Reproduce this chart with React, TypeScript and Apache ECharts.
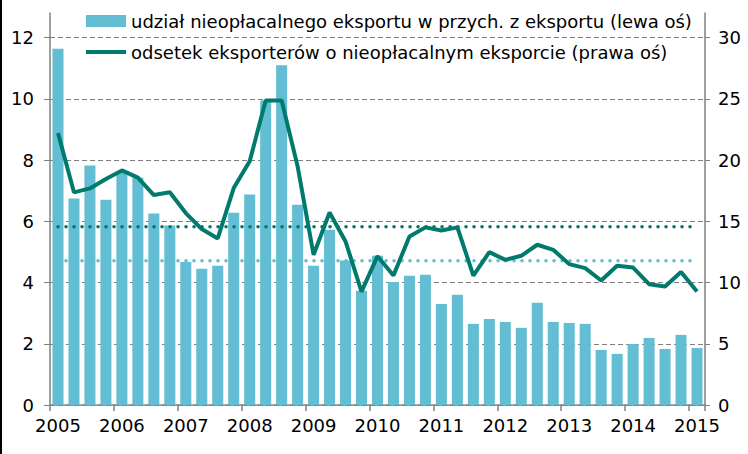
import React, { useEffect, useRef } from "react";
import * as echarts from "echarts";

const quarters = [
  "2005 Q1", "2005 Q2", "2005 Q3", "2005 Q4",
  "2006 Q1", "2006 Q2", "2006 Q3", "2006 Q4",
  "2007 Q1", "2007 Q2", "2007 Q3", "2007 Q4",
  "2008 Q1", "2008 Q2", "2008 Q3", "2008 Q4",
  "2009 Q1", "2009 Q2", "2009 Q3", "2009 Q4",
  "2010 Q1", "2010 Q2", "2010 Q3", "2010 Q4",
  "2011 Q1", "2011 Q2", "2011 Q3", "2011 Q4",
  "2012 Q1", "2012 Q2", "2012 Q3", "2012 Q4",
  "2013 Q1", "2013 Q2", "2013 Q3", "2013 Q4",
  "2014 Q1", "2014 Q2", "2014 Q3", "2014 Q4",
  "2015 Q1",
];

// udział nieopłacalnego eksportu w przychodach z eksportu (lewa oś)
const unprofitableExportShare = [
  11.63, 6.74, 7.82, 6.7,
  7.62, 7.42, 6.25, 5.86,
  4.67, 4.45, 4.55, 6.28,
  6.87, 9.94, 11.09, 6.54,
  4.55, 5.72, 4.72, 3.73,
  4.87, 4.02, 4.22, 4.25,
  3.3, 3.6, 2.65, 2.81,
  2.71, 2.52, 3.34, 2.71,
  2.68, 2.65, 1.8, 1.67,
  1.99, 2.19, 1.83, 2.29,
  1.86,
];

// odsetek eksporterów o nieopłacalnym eksporcie (prawa oś)
const unprofitableExportersPct = [
  22.2, 17.36, 17.68, 18.45,
  19.15, 18.56, 17.14, 17.36,
  15.67, 14.36, 13.6, 17.71,
  19.89, 24.85, 24.85, 19.48,
  12.26, 15.72, 13.35, 9.26,
  12.15, 10.57, 13.76, 14.5,
  14.25, 14.5, 10.57, 12.48,
  11.85, 12.18, 13.08, 12.67,
  11.5, 11.17, 10.16, 11.36,
  11.22, 9.86, 9.67, 10.85,
  9.26,
];

// średnie (linie kropkowane)
const avgShare = [4.71];
const avgExporters = [14.55];

const leftAxis = { min: 0, max: 12.8, interval: 2 };
const rightAxis = { min: 0, max: 32, interval: 5 };

const barName = "udział nieopłacalnego eksportu w przych. z eksportu (lewa oś)";
const lineName = "odsetek eksporterów o nieopłacalnym eksporcie (prawa oś)";

const BAR_COLOR = "#63BDD3";
const LINE_COLOR = "#007A6C";
const FONT = "DejaVu Sans, sans-serif";

export default function App() {
  const ref = useRef<HTMLDivElement>(null);

  useEffect(() => {
    document.body.style.margin = "0";
    if (!ref.current) return;
    const chart = echarts.init(ref.current, null, { renderer: "svg" });
    const gridLine = { show: true, showMaxLine: false, lineStyle: { color: "#808080", type: [5, 3], width: 1 } };
    chart.setOption({
      animation: false,
      backgroundColor: "#ffffff",
      textStyle: { fontFamily: FONT },
      grid: { left: 50, right: 43, top: 13, bottom: 49, containLabel: false },
      legend: {
        orient: "vertical",
        left: 84,
        top: 12,
        padding: 0,
        itemWidth: 40,
        itemHeight: 12,
        itemGap: 13,
        textStyle: { fontSize: 18, color: "#000", fontFamily: FONT },
        data: [
          { name: barName, icon: "rect" },
          {
            name: lineName,
            itemStyle: { opacity: 0, color: "transparent", borderWidth: 0 },
            lineStyle: { width: 4, color: LINE_COLOR },
          },
        ],
        selectedMode: false,
      },
      xAxis: {
        type: "category",
        data: quarters,
        boundaryGap: true,
        axisLine: { lineStyle: { color: "#808080", width: 1.5 } },
        axisTick: { show: true, interval: 3, length: 6, lineStyle: { color: "#808080", width: 1.5 } },
        axisLabel: {
          interval: 3,
          margin: 11,
          fontSize: 18,
          color: "#000",
          fontFamily: FONT,
          formatter: (v: string) => v.slice(0, 4),
        },
        splitLine: { show: false },
      },
      yAxis: [
        {
          type: "value",
          min: leftAxis.min,
          max: leftAxis.max,
          interval: leftAxis.interval,
          axisLine: { show: true, lineStyle: { color: "#808080", width: 1.5 } },
          axisTick: { show: true, length: 6, lineStyle: { color: "#808080", width: 1 } },
          axisLabel: {
            margin: 16,
            fontSize: 18,
            color: "#000",
            fontFamily: FONT,
            showMaxLabel: false,
            formatter: (v: number) => (v % leftAxis.interval === 0 ? String(v) : ""),
          },
          splitLine: gridLine,
        },
        {
          type: "value",
          position: "right",
          min: rightAxis.min,
          max: rightAxis.max,
          interval: rightAxis.interval,
          axisLine: { show: true, lineStyle: { color: "#808080", width: 1.5 } },
          axisTick: { show: true, length: 5, lineStyle: { color: "#808080", width: 1 } },
          axisLabel: {
            margin: 13,
            fontSize: 18,
            color: "#000",
            fontFamily: FONT,
            showMaxLabel: false,
            formatter: (v: number) => (v % rightAxis.interval === 0 ? String(v) : ""),
          },
          splitLine: { show: false },
        },
      ],
      graphic: [
        { type: "rect", left: 0, top: 0, shape: { width: 2, height: 454 }, style: { fill: "#000" }, silent: true },
      ],
      series: [
        {
          name: "avgShare",
          type: "line",
          yAxisIndex: 0,
          data: quarters.map(() => avgShare[0]),
          symbol: "none",
          lineStyle: { color: BAR_COLOR, width: 3.5, type: [0.1, 7.9], cap: "round" },
          silent: true,
        },
        {
          name: barName,
          type: "bar",
          yAxisIndex: 0,
          data: unprofitableExportShare,
          barCategoryGap: "31%",
          itemStyle: { color: BAR_COLOR },
        },
        {
          name: "avgExporters",
          type: "line",
          yAxisIndex: 1,
          data: quarters.map(() => avgExporters[0]),
          symbol: "none",
          lineStyle: { color: LINE_COLOR, width: 3.5, type: [0.1, 7.9], cap: "round" },
          silent: true,
        },
        {
          name: lineName,
          type: "line",
          yAxisIndex: 1,
          data: unprofitableExportersPct,
          symbol: "none",
          lineStyle: { color: LINE_COLOR, width: 4 },
          itemStyle: { color: LINE_COLOR },
        },
      ],
    });
    return () => chart.dispose();
  }, []);

  return <div ref={ref} style={{ width: 748, height: 454 }} />;
}
